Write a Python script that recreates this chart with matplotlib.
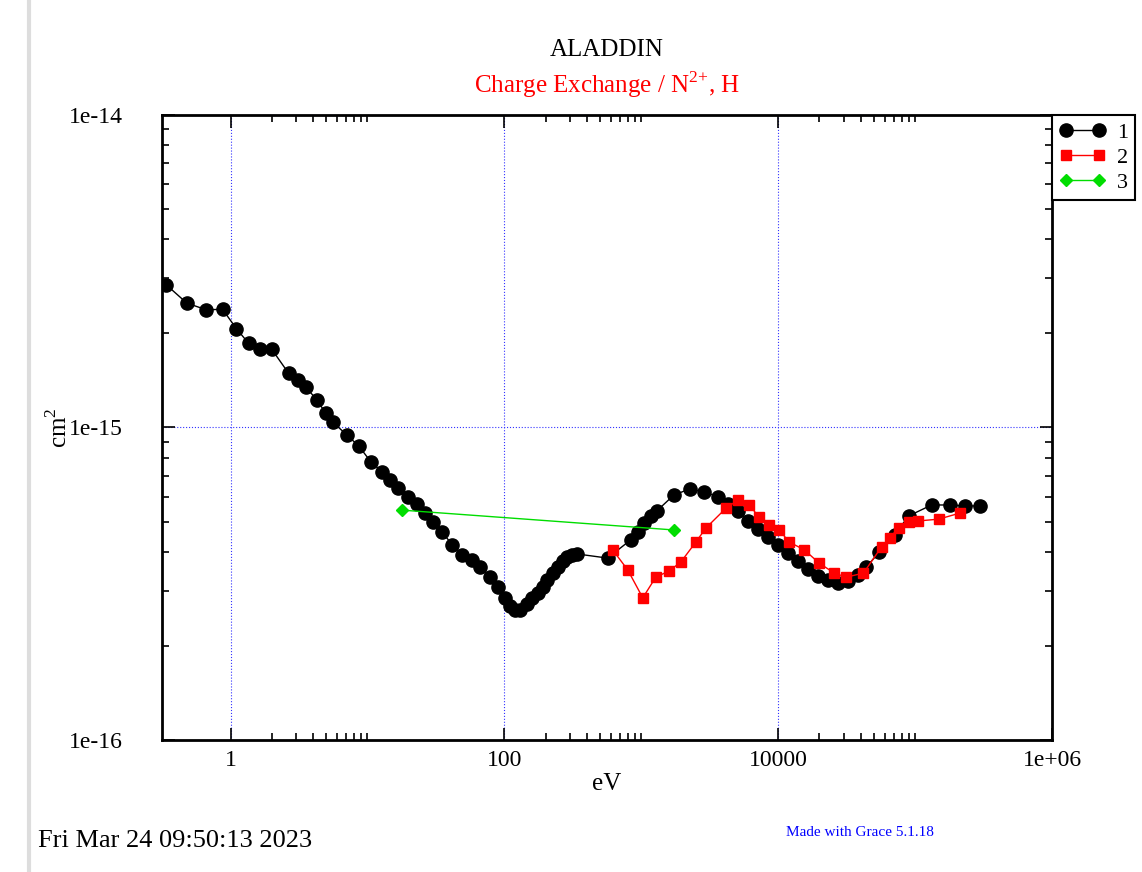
# ALADDIN - Charge Exchange / N2+, H  (estilo Grace)

import matplotlib
matplotlib.use("Agg")
import matplotlib.pyplot as plt
from matplotlib.ticker import FixedLocator, FixedFormatter, NullFormatter
from matplotlib.lines import Line2D

# Datos (eV, cm^2)
x1 = [0.34, 0.48, 0.667, 0.874, 1.106, 1.355, 1.63, 2.0, 2.66, 3.10, 3.54, 4.27, 4.97,
      5.59, 7.08, 8.66, 10.6, 12.8, 14.6, 16.7, 19.8, 23.1, 26.4, 30.2, 35.2, 41.6,
      49.2, 58.3, 66.7, 78.9, 90.3, 101.6, 110.6, 120.5, 131, 147, 160, 175, 190, 206,
      225, 245, 266, 285, 310, 337, 568, 838, 942, 1042, 1175, 1300, 1730, 2265, 2870,
      3630, 4300, 5090, 6030, 7130, 8450, 10000, 11840, 14020, 16600, 19640, 23240,
      27540, 32590, 38550, 44150, 54950, 70790, 89630, 132000, 179000, 231000, 297000]
y1 = [2.86e-15, 2.50e-15, 2.38e-15, 2.39e-15, 2.07e-15, 1.86e-15, 1.78e-15, 1.78e-15,
      1.49e-15, 1.42e-15, 1.35e-15, 1.225e-15, 1.11e-15, 1.04e-15, 9.46e-16, 8.72e-16,
      7.76e-16, 7.21e-16, 6.79e-16, 6.40e-16, 6.00e-16, 5.69e-16, 5.32e-16, 4.99e-16,
      4.63e-16, 4.21e-16, 3.91e-16, 3.77e-16, 3.58e-16, 3.32e-16, 3.09e-16, 2.85e-16,
      2.69e-16, 2.61e-16, 2.61e-16, 2.72e-16, 2.85e-16, 2.95e-16, 3.09e-16, 3.25e-16,
      3.42e-16, 3.58e-16, 3.74e-16, 3.85e-16, 3.91e-16, 3.94e-16, 3.82e-16, 4.37e-16,
      4.63e-16, 4.95e-16, 5.21e-16, 5.41e-16, 6.08e-16, 6.36e-16, 6.22e-16, 6.00e-16,
      5.69e-16, 5.41e-16, 5.02e-16, 4.73e-16, 4.47e-16, 4.21e-16, 3.97e-16, 3.74e-16,
      3.52e-16, 3.35e-16, 3.25e-16, 3.18e-16, 3.23e-16, 3.37e-16, 3.58e-16, 4.00e-16,
      4.53e-16, 5.21e-16, 5.65e-16, 5.65e-16, 5.61e-16, 5.61e-16]

x2 = [618, 797, 1026, 1277, 1590, 1945, 2505, 2970, 4160, 5090, 6130, 7260, 8600,
      10170, 12040, 15500, 19950, 25700, 31480, 41970, 56890, 65080, 75720, 89630,
      104300, 148600, 212000]
y2 = [4.06e-16, 3.50e-16, 2.85e-16, 3.32e-16, 3.47e-16, 3.71e-16, 4.30e-16, 4.77e-16,
      5.52e-16, 5.86e-16, 5.65e-16, 5.17e-16, 4.88e-16, 4.70e-16, 4.30e-16, 4.06e-16,
      3.68e-16, 3.42e-16, 3.32e-16, 3.42e-16, 4.15e-16, 4.43e-16, 4.77e-16, 4.99e-16,
      5.02e-16, 5.09e-16, 5.32e-16]

x3 = [17.9, 1730]
y3 = [5.44e-16, 4.70e-16]

series_labels = ["1", "2", "3"]
xtick_vals = [1, 100, 10000, 1e6]
xtick_labels = ["1", "100", "10000", "1e+06"]
ytick_vals = [1e-16, 1e-15, 1e-14]
ytick_labels = ["1e-16", "1e-15", "1e-14"]

plt.rcParams['font.family'] = ['Liberation Serif', 'DejaVu Serif']
plt.rcParams['mathtext.fontset'] = 'custom'
plt.rcParams['mathtext.rm'] = 'Liberation Serif'

fig = plt.figure(figsize=(11.42, 8.72), dpi=100)
fig.patch.set_facecolor('white')
# borde gris de la página a la izquierda
fig.add_artist(Line2D([0.025, 0.025], [0, 1], color='#dddddd', lw=3, transform=fig.transFigure))

ax = fig.add_axes([0.1419, 0.1514, 0.7793, 0.7167])
ax.set_xscale('log')
ax.set_yscale('log')

ax.plot(x1, y1, '-o', color='black', lw=1, ms=9.5, label=series_labels[0])
ax.plot(x2, y2, '-s', color='red', lw=1, ms=7, label=series_labels[1])
ax.plot(x3, y3, '-D', color='#00dd00', lw=1, ms=6, label=series_labels[2])

ax.set_xlim(10 ** -0.5, 1e6)
ax.set_ylim(1e-16, 1e-14)

# ticks estilo Grace
ax.xaxis.set_major_locator(FixedLocator(xtick_vals))
ax.xaxis.set_major_formatter(FixedFormatter(xtick_labels))
ax.xaxis.set_minor_locator(FixedLocator([k * 10.0 ** e for e in (0, 2, 4) for k in range(2, 11)]))
ax.xaxis.set_minor_formatter(NullFormatter())
ax.yaxis.set_major_locator(FixedLocator(ytick_vals))
ax.yaxis.set_major_formatter(FixedFormatter(ytick_labels))
ax.yaxis.set_minor_locator(FixedLocator([k * 10.0 ** e for e in (-16, -15) for k in range(2, 10)]))
ax.yaxis.set_minor_formatter(NullFormatter())
ax.tick_params(which='both', direction='in', top=True, right=True, labelsize=17, width=1.2)
ax.tick_params(which='major', length=9)
ax.tick_params(axis='x', which='major', pad=7)
ax.tick_params(axis='y', which='major', pad=28)
ax.tick_params(which='minor', length=5)
for s in ax.spines.values():
    s.set_linewidth(2)

ax.grid(True, which='major', color='#3333ff', linestyle=':', linewidth=0.8)

ax.set_xlabel('eV', fontsize=18, labelpad=2)
ax.set_ylabel('cm$^2$', fontsize=18)
ax.yaxis.set_label_coords(-0.101, 0.5)

fig.text(0.5315, 0.943, 'ALADDIN', ha='center', va='center', fontsize=18)
fig.text(0.5315, 0.903, r'Charge Exchange / N$^{\mathregular{2{+}}}$, H', ha='center',
         va='center', fontsize=18, color='red')

leg = ax.legend(loc='upper left', bbox_to_anchor=(1.0, 1.0), borderaxespad=0,
                numpoints=2, fancybox=False, fontsize=16, handlelength=2.1,
                handletextpad=0.5, labelspacing=0.2, borderpad=0.32,
                framealpha=1, edgecolor='black')
leg.get_frame().set_linewidth(1.5)

fig.text(0.033, 0.036, 'Fri Mar 24 09:50:13 2023', ha='left', va='center', fontsize=19)
fig.text(0.688, 0.045, 'Made with Grace 5.1.18', ha='left', va='center', fontsize=11,
         color='blue')

fig.savefig('out.png', dpi=100)
